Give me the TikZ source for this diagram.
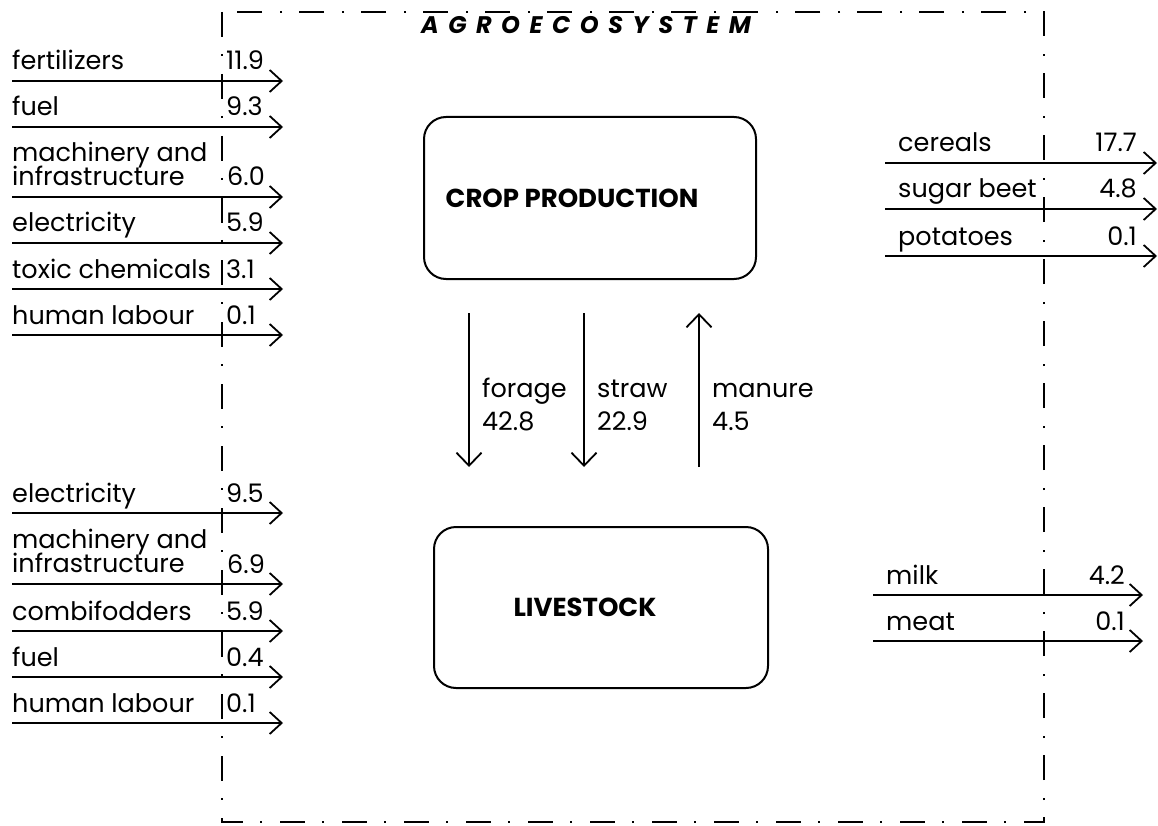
\documentclass[tikz,border=0pt]{standalone}
\usepackage{fontspec}
\setmainfont{Poppins}
\usetikzlibrary{arrows.meta}
\newcommand\tightls{\lineskiplimit=-50pt\relax}
\begin{document}
\begin{tikzpicture}[x=1pt,y=-1pt,
  flow/.style={line width=1.8pt,-{Straight Barb[length=12pt,width=22pt,line width=1.8pt]}},
  vflow/.style={line width=1.8pt,-{Straight Barb[length=13pt,width=25pt,line width=1.8pt]}},
  lbl/.style={anchor=base west,inner sep=0pt,font=\fontsize{25.5}{25.5}\selectfont},
  num/.style={anchor=base east,inner sep=0pt,font=\fontsize{25.5}{25.5}\selectfont},
  two/.style={anchor=south west,inner sep=0pt,align=left,font=\fontsize{25.5}{24.5}\selectfont\tightls},
  box/.style={draw,line width=2pt,rounded corners=22pt,inner sep=0pt,font=\bfseries\fontsize{26}{26}\selectfont},
  bound/.style={line width=1.4pt,dash pattern=on 25pt off 17pt on 2pt off 18pt}
]
\useasboundingbox (0,0) rectangle (1158,826);
\fill[white] (0,0) rectangle (1158,826);
% system boundary
\draw[bound] (222,12) rectangle (1044,822);
\node[inner sep=0pt,font=\bfseries\itshape\fontsize{24}{24}\selectfont] (title) at (586,25)
  {A\hspace{9.5pt}G\hspace{9.5pt}R\hspace{9.5pt}O\hspace{9.5pt}E\hspace{9.5pt}C\hspace{9.5pt}O\hspace{9.5pt}S\hspace{9.5pt}Y\hspace{9.5pt}S\hspace{9.5pt}T\hspace{9.5pt}E\hspace{9.5pt}M};
% boxes
\node[box,minimum width=332pt,minimum height=162pt] (crop) at (590,198) {\hspace*{-36pt}CROP PRODUCTION};
\node[box,minimum width=334pt,minimum height=161pt] (live) at (601,607.5) {\hspace*{-32pt}LIVESTOCK};
% internal flows
\coordinate (fa) at (469,313); \coordinate (fb) at (469,467);
\coordinate (sa) at (584,313); \coordinate (sb) at (584,467);
\coordinate (ma) at (699,467); \coordinate (mb) at (699,313);
\draw[vflow] (fa) -- (fb);
\draw[vflow] (sa) -- (sb);
\draw[vflow] (ma) -- (mb);
\node[lbl] (forage) at (482,397) {forage};
\node[lbl] (foragev) at (482,430) {42.8};
\node[lbl] (straw) at (597,397) {straw};
\node[lbl] (strawv) at (597,430) {22.9};
\node[lbl] (manure) at (712,397) {manure};
\node[lbl] (manurev) at (712,430) {4.5};
% inputs
\foreach \y/\t/\v [count=\i] in {81/fertilizers/11.9, 127/fuel/9.3, 243/electricity/5.9, 289/toxic chemicals/3.1, 335/human labour/0.1,
  513/electricity/9.5, 631/combifodders/5.9, 677/fuel/0.4, 723/human labour/0.1}{
  \coordinate (ia\i) at (12,\y);
  \coordinate (ib\i) at (283,\y);
  \draw[flow] (ia\i) -- (ib\i);
  \node[lbl] (it\i) at (12,\y-11) {\t};
  \node[lbl] (iv\i) at (226,\y-11) {\v};
}
\foreach \y/\v [count=\i] in {197/6.0, 584/6.9}{
  \coordinate (ma\i) at (12,\y);
  \coordinate (mb\i) at (283,\y);
  \draw[flow] (ma\i) -- (mb\i);
  \node[two] (mt\i) at (12,\y-11) {machinery and\\infrastructure};
  \node[lbl] (mv\i) at (227,\y-11) {\v};
}
% outputs
\foreach \y/\t/\v [count=\i] in {163/cereals/17.7, 209/sugar beet/4.8, 256/potatoes/0.1}{
  \coordinate (oa\i) at (885,\y);
  \coordinate (ob\i) at (1157,\y);
  \draw[flow] (oa\i) -- (ob\i);
  \node[lbl] (ot\i) at (898,\y-11) {\t};
  \node[num] (ov\i) at (1137,\y-11) {\v};
}
\foreach \y/\t/\v [count=\i] in {595/milk/4.2, 641/meat/0.1}{
  \coordinate (pa\i) at (873,\y);
  \coordinate (pb\i) at (1143,\y);
  \draw[flow] (pa\i) -- (pb\i);
  \node[lbl] (pt\i) at (886,\y-11) {\t};
  \node[num] (pv\i) at (1125,\y-11) {\v};
}
\end{tikzpicture}
\end{document}
